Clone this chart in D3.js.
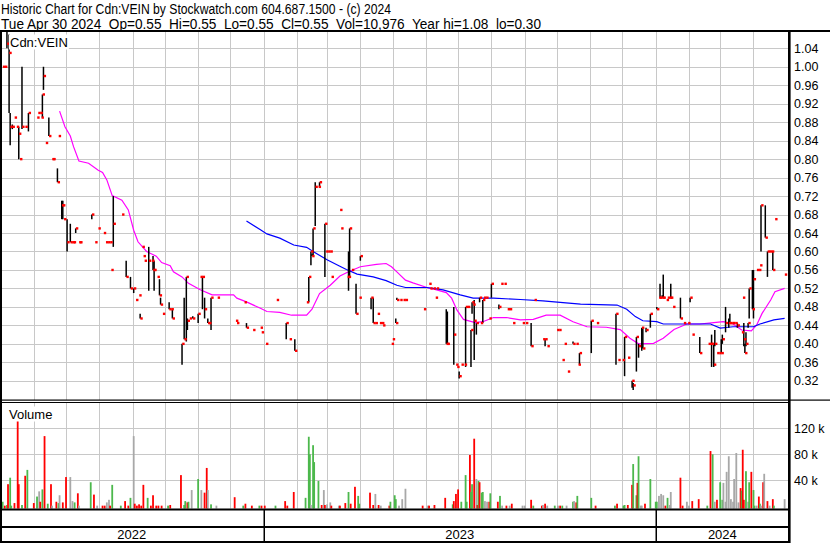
<!DOCTYPE html>
<html><head><meta charset="utf-8">
<script src="https://cdn.jsdelivr.net/npm/d3@7"></script>
<style>html,body{margin:0;padding:0;background:#fff;} svg{display:block;font-family:"Liberation Sans",Arial,sans-serif;}</style>
</head><body><svg id="c" width="830" height="543"></svg>
<script>
const headerTitle = "Historic Chart for Cdn:VEIN by Stockwatch.com 604.687.1500 - (c) 2024";
const headerQuote = "Tue Apr 30 2024  Op=0.55  Hi=0.55  Lo=0.55  Cl=0.55  Vol=10,976  Year hi=1.08  lo=0.30";
const symbolLabel = "Cdn:VEIN";
const volumeLabel = "Volume";
const priceTicks = [1.04,1.00,0.96,0.92,0.88,0.84,0.80,0.76,0.72,0.68,0.64,0.60,0.56,0.52,0.48,0.44,0.40,0.36,0.32];
const volumeTicks = [120,80,40];
const yearLabels = ["2022","2023","2024"];

// [date, high, low, close] or [date, close]
const ohlc = [
["2022-05-03",1.00],["2022-05-05",1.00],["2022-05-07",1.08,1.04,1.05],["2022-05-09",1.07,0.90,1.03],
["2022-05-10",0.90,0.83,0.87],["2022-05-12",0.875,0.865,0.87],["2022-05-14",0.89],["2022-05-16",0.87],
["2022-05-18",0.87,0.80,0.855],["2022-05-19",0.80],["2022-05-21",1.00,0.865,0.87],["2022-05-24",0.87],
["2022-05-27",0.90,0.86,0.90],["2022-06-04",0.89],["2022-06-05",0.90],["2022-06-07",0.90],["2022-06-08",0.89],
["2022-06-09",0.94,0.89,0.94],["2022-06-10",1.00,0.95,0.98],["2022-06-12",0.835],["2022-06-15",0.89,0.85,0.85],
["2022-06-18",0.80],["2022-06-19",0.80],["2022-06-23",0.78,0.75,0.75],["2022-06-24",0.85],
["2022-06-27",0.71,0.67,0.70],["2022-06-28",0.71,0.67,0.70],["2022-06-29",0.67],["2022-07-02",0.67,0.60,0.62],
["2022-07-05",0.66,0.62,0.62],["2022-07-07",0.62],["2022-07-08",0.62],["2022-07-10",0.65,0.64,0.65],
["2022-07-13",0.62],["2022-07-14",0.62],["2022-07-25",0.68,0.67,0.68],["2022-07-28",0.62],["2022-07-31",0.65],
["2022-08-05",0.64],["2022-08-07",0.62],["2022-08-09",0.62],["2022-08-11",0.62],["2022-08-12",0.56],
["2022-08-14",0.72,0.61,0.66],["2022-08-22",0.68],["2022-08-26",0.58,0.545,0.545],["2022-08-30",0.545,0.52,0.52],
["2022-09-02",0.52,0.51,0.52],["2022-09-04",0.495],["2022-09-07",0.505],["2022-09-08",0.465,0.455,0.455],
["2022-09-10",0.61],["2022-09-11",0.59],["2022-09-12",0.58],["2022-09-16",0.61,0.515,0.58],["2022-09-19",0.58],
["2022-09-20",0.59,0.56,0.56],["2022-09-21",0.58,0.515,0.56],["2022-09-24",0.545],["2022-09-26",0.54,0.505,0.505],
["2022-09-27",0.50,0.485,0.485],["2022-09-29",0.465],["2022-10-05",0.49,0.475,0.475],["2022-10-07",0.475],
["2022-10-08",0.475,0.455,0.455],["2022-10-17",0.40,0.355,0.40],["2022-10-19",0.50,0.41,0.41],
["2022-10-21",0.545,0.405,0.545],["2022-10-22",0.455,0.43,0.45],["2022-10-24",0.455],["2022-10-27",0.46,0.455,0.455],
["2022-11-01",0.465,0.445,0.465],["2022-11-03",0.545],["2022-11-05",0.545,0.475,0.545],["2022-11-07",0.50,0.455,0.475],
["2022-11-10",0.455,0.445,0.445],["2022-11-11",0.445],["2022-11-13",0.50,0.43,0.50],["2022-11-19",0.50],
["2022-12-06",0.45],["2022-12-07",0.445],["2022-12-14",0.49],["2022-12-16",0.445,0.435,0.435],["2022-12-22",0.43],
["2022-12-29",0.435],["2022-12-30",0.425],["2023-01-03",0.40],["2023-01-13",0.495],["2023-01-22",0.445,0.41,0.445],
["2023-01-25",0.41],["2023-01-30",0.41,0.385,0.385],["2023-02-10",0.49],["2023-02-12",0.545,0.49,0.545],
["2023-02-14",0.60,0.57,0.60],["2023-02-15",0.595,0.59,0.59],["2023-02-16",0.65,0.59,0.65],["2023-02-18",0.75,0.655,0.74],
["2023-02-21",0.74],["2023-02-22",0.75,0.74,0.75],["2023-02-27",0.66,0.545,0.66],["2023-02-28",0.60],["2023-03-02",0.60],
["2023-03-04",0.60],["2023-03-05",0.545],["2023-03-13",0.69],["2023-03-14",0.65],["2023-03-20",0.545],
["2023-03-21",0.60,0.515,0.545],["2023-03-22",0.65,0.545,0.65],["2023-03-24",0.56],["2023-03-28",0.53,0.465,0.465],
["2023-03-31",0.50],["2023-04-01",0.59,0.58,0.59],["2023-04-11",0.50,0.475,0.50],["2023-04-13",0.50,0.445,0.445],
["2023-04-15",0.445],["2023-04-17",0.465],["2023-04-19",0.445],["2023-04-21",0.445],["2023-04-22",0.44],
["2023-04-30",0.40],["2023-05-01",0.41],["2023-05-04",0.455,0.445,0.445],["2023-05-05",0.50,0.495,0.495],
["2023-05-08",0.495],["2023-05-11",0.495],["2023-05-13",0.495],["2023-05-30",0.475],["2023-06-04",0.53],
["2023-06-05",0.52],["2023-06-08",0.52],["2023-06-10",0.50],["2023-06-11",0.52],["2023-06-20",0.475,0.40,0.40],
["2023-06-21",0.47,0.40,0.40],["2023-06-27",0.48,0.355,0.42],["2023-06-29",0.355],["2023-06-30",0.35],
["2023-07-02",0.34,0.325,0.33],["2023-07-04",0.355],["2023-07-07",0.355],["2023-07-08",0.48,0.35,0.48],
["2023-07-10",0.48],["2023-07-13",0.43,0.35,0.43],["2023-07-14",0.49,0.465,0.49],["2023-07-15",0.485],
["2023-07-16",0.495,0.365,0.45],["2023-07-18",0.445,0.42,0.445],["2023-07-21",0.50,0.49,0.50],["2023-07-22",0.445],
["2023-07-24",0.495,0.445,0.495],["2023-07-25",0.50],["2023-07-27",0.50],["2023-07-30",0.455],["2023-08-01",0.53,0.50,0.53],
["2023-08-08",0.485,0.475,0.48],["2023-08-10",0.53],["2023-08-13",0.53],["2023-08-16",0.475],["2023-08-18",0.475],
["2023-08-21",0.445],["2023-08-30",0.445],["2023-09-02",0.445],["2023-09-07",0.445,0.395,0.395],["2023-09-10",0.495],
["2023-09-18",0.41],["2023-09-20",0.41,0.395,0.41],["2023-09-22",0.395],["2023-10-01",0.43],["2023-10-03",0.43],
["2023-10-06",0.365],["2023-10-08",0.40],["2023-10-11",0.34],["2023-10-16",0.405,0.40,0.40],["2023-10-19",0.40],
["2023-10-21",0.355],["2023-10-22",0.38,0.355,0.38],["2023-11-02",0.45,0.38,0.45],["2023-11-07",0.445],
["2023-11-25",0.465,0.355,0.465],["2023-11-27",0.365],["2023-12-01",0.365],["2023-12-03",0.415,0.33,0.415],
["2023-12-06",0.37],["2023-12-10",0.32,0.305,0.32],["2023-12-11",0.315,0.30,0.31],["2023-12-14",0.415,0.34,0.415],
["2023-12-16",0.40,0.37,0.395],["2023-12-19",0.435,0.385,0.435],["2023-12-20",0.435,0.39,0.39],["2023-12-23",0.435,0.425,0.43],
["2023-12-27",0.465,0.435,0.465],["2024-01-02",0.48,0.475,0.475],["2024-01-04",0.50],["2024-01-05",0.53,0.50,0.50],
["2024-01-07",0.505,0.50,0.50],["2024-01-08",0.55,0.50,0.50],["2024-01-11",0.495],["2024-01-12",0.50],["2024-01-14",0.50],
["2024-01-15",0.53,0.50,0.50],["2024-01-17",0.48],["2024-01-24",0.50,0.455,0.455],["2024-01-27",0.445],["2024-01-31",0.445],
["2024-02-02",0.50,0.49,0.50],["2024-02-04",0.42],["2024-02-11",0.415,0.38,0.38],["2024-02-19",0.40],["2024-02-21",0.40],
["2024-02-22",0.42,0.35,0.40],["2024-02-24",0.40,0.35,0.355],["2024-02-25",0.43,0.395,0.40],["2024-02-27",0.38],
["2024-02-29",0.38],["2024-03-02",0.41,0.38,0.38],["2024-03-03",0.42,0.40,0.41],["2024-03-06",0.48,0.425,0.445],
["2024-03-09",0.455,0.435,0.445],["2024-03-10",0.465,0.445,0.445],["2024-03-12",0.445],["2024-03-13",0.445],
["2024-03-15",0.445],["2024-03-17",0.445,0.435,0.44],["2024-03-21",0.425],["2024-03-22",0.50],["2024-03-23",0.445,0.395,0.41],
["2024-03-24",0.40,0.38,0.38],["2024-03-25",0.425,0.395,0.40],["2024-03-27",0.445,0.435,0.445],["2024-03-28",0.52,0.455,0.52],
["2024-03-31",0.56,0.475,0.475],["2024-04-01",0.56,0.455,0.54],["2024-04-04",0.56],["2024-04-06",0.56],["2024-04-07",0.57],
["2024-04-08",0.70,0.60,0.70],["2024-04-12",0.70,0.63,0.63],["2024-04-14",0.60,0.545,0.60],["2024-04-16",0.60],
["2024-04-18",0.60],["2024-04-19",0.60,0.56,0.56],["2024-04-21",0.67],["2024-04-30",0.55]
];

// [date, volume in thousands, r=down g=up n=unchanged]
const volume = [
["2022-05-01",48,"n"],["2022-05-03",7,"g"],["2022-05-05",1,"r"],["2022-05-07",2,"g"],["2022-05-08",34,"r"],["2022-05-10",44,"g"],
["2022-05-11",1,"g"],["2022-05-14",5,"r"],["2022-05-17",136,"r"],["2022-05-18",34,"r"],["2022-05-21",2,"g"],["2022-05-24",47,"r"],
["2022-05-26",56,"g"],["2022-06-01",5,"r"],["2022-06-04",15,"g"],["2022-06-06",23,"n"],["2022-06-07",7,"r"],["2022-06-09",26,"g"],
["2022-06-11",108,"r"],["2022-06-14",4,"g"],["2022-06-17",34,"r"],["2022-06-18",1,"n"],["2022-06-22",7,"r"],["2022-06-24",5,"g"],
["2022-06-25",17,"n"],["2022-06-28",6,"r"],["2022-07-01",45,"r"],["2022-07-05",45,"n"],["2022-07-07",8,"n"],["2022-07-09",6,"g"],
["2022-07-12",20,"r"],["2022-07-13",1,"n"],["2022-07-24",37,"g"],["2022-07-27",18,"r"],["2022-07-30",1,"n"],["2022-08-04",1,"r"],
["2022-08-06",1,"r"],["2022-08-08",6,"n"],["2022-08-10",10,"n"],["2022-08-11",1,"r"],["2022-08-13",33,"g"],["2022-08-21",1,"g"],
["2022-08-25",8,"r"],["2022-08-28",1,"r"],["2022-08-30",13,"g"],["2022-09-02",108,"n"],["2022-09-03",4,"r"],["2022-09-05",1,"r"],
["2022-09-07",3,"r"],["2022-09-09",1,"r"],["2022-09-11",33,"r"],["2022-09-15",13,"g"],["2022-09-18",1,"r"],["2022-09-20",17,"r"],
["2022-09-23",1,"r"],["2022-09-25",1,"r"],["2022-09-28",1,"r"],["2022-10-04",1,"g"],["2022-10-06",2,"r"],["2022-10-16",48,"r"],
["2022-10-19",2,"g"],["2022-10-20",8,"g"],["2022-10-22",6,"r"],["2022-10-23",7,"g"],["2022-10-26",25,"n"],["2022-11-01",42,"g"],
["2022-11-04",25,"n"],["2022-11-07",21,"r"],["2022-11-09",59,"r"],["2022-11-10",25,"n"],["2022-11-13",3,"g"],["2022-11-18",1,"n"],
["2022-12-05",14,"r"],["2022-12-13",1,"g"],["2022-12-15",4,"r"],["2022-12-21",1,"r"],["2022-12-28",1,"g"],["2022-12-30",1,"r"],
["2023-01-02",1,"r"],["2023-01-12",1,"g"],["2023-01-21",8,"r"],["2023-01-23",1,"r"],["2023-01-29",22,"r"],["2023-02-09",13,"g"],
["2023-02-12",107,"g"],["2023-02-13",80,"g"],["2023-02-14",2,"n"],["2023-02-16",94,"g"],["2023-02-17",68,"g"],["2023-02-21",39,"g"],
["2023-02-24",2,"r"],["2023-02-26",25,"n"],["2023-02-27",2,"r"],["2023-03-01",3,"n"],["2023-03-04",6,"n"],["2023-03-05",1,"r"],
["2023-03-12",1,"n"],["2023-03-13",1,"r"],["2023-03-18",5,"r"],["2023-03-21",22,"g"],["2023-03-23",4,"r"],["2023-03-27",30,"r"],
["2023-03-30",16,"g"],["2023-03-31",4,"g"],["2023-04-10",21,"r"],["2023-04-13",2,"r"],["2023-04-15",19,"n"],["2023-04-18",2,"r"],
["2023-04-20",1,"n"],["2023-04-28",1,"r"],["2023-04-29",7,"g"],["2023-05-03",17,"g"],["2023-05-04",11,"g"],["2023-05-07",1,"n"],
["2023-05-10",11,"n"],["2023-05-13",27,"n"],["2023-05-29",1,"r"],["2023-06-03",1,"n"],["2023-06-04",1,"r"],["2023-06-09",2,"r"],
["2023-06-19",13,"r"],["2023-06-26",3,"g"],["2023-06-27",8,"r"],["2023-06-29",19,"r"],["2023-07-01",26,"r"],["2023-07-04",7,"g"],
["2023-07-08",48,"g"],["2023-07-09",7,"g"],["2023-07-12",79,"r"],["2023-07-13",22,"g"],["2023-07-14",34,"g"],["2023-07-16",104,"r"],
["2023-07-18",42,"n"],["2023-07-19",2,"r"],["2023-07-20",39,"g"],["2023-07-21",37,"r"],["2023-07-23",21,"g"],["2023-07-24",22,"g"],
["2023-07-26",8,"n"],["2023-07-28",7,"n"],["2023-07-30",7,"r"],["2023-07-31",20,"g"],["2023-08-07",7,"r"],["2023-08-09",16,"g"],
["2023-08-11",1,"n"],["2023-08-15",1,"r"],["2023-08-18",1,"n"],["2023-08-20",4,"r"],["2023-08-30",1,"n"],["2023-09-01",1,"n"],
["2023-09-07",10,"r"],["2023-09-09",1,"g"],["2023-09-17",1,"r"],["2023-09-18",2,"n"],["2023-09-20",4,"r"],["2023-09-22",1,"n"],
["2023-09-29",1,"g"],["2023-10-02",1,"n"],["2023-10-04",1,"r"],["2023-10-06",1,"g"],["2023-10-10",1,"n"],["2023-10-16",7,"g"],
["2023-10-17",8,"n"],["2023-10-19",6,"r"],["2023-10-20",16,"g"],["2023-11-02",13,"g"],["2023-11-06",1,"r"],["2023-11-24",1,"g"],
["2023-11-26",4,"r"],["2023-12-02",1,"g"],["2023-12-03",2,"g"],["2023-12-06",2,"r"],["2023-12-10",33,"r"],["2023-12-11",65,"g"],
["2023-12-14",17,"g"],["2023-12-15",36,"r"],["2023-12-16",77,"g"],["2023-12-18",1,"n"],["2023-12-19",1,"n"],["2023-12-22",4,"r"],
["2023-12-27",42,"g"],["2024-01-01",7,"g"],["2024-01-02",7,"g"],["2024-01-04",16,"n"],["2024-01-06",19,"n"],["2024-01-08",17,"n"],
["2024-01-10",1,"r"],["2024-01-12",13,"g"],["2024-01-14",2,"n"],["2024-01-15",22,"n"],["2024-01-24",44,"r"],["2024-01-26",1,"r"],
["2024-01-30",7,"n"],["2024-02-01",1,"n"],["2024-02-04",8,"r"],["2024-02-10",11,"r"],["2024-02-18",1,"g"],["2024-02-21",85,"r"],
["2024-02-23",80,"g"],["2024-02-25",7,"n"],["2024-02-27",10,"r"],["2024-03-01",37,"g"],["2024-03-03",10,"g"],["2024-03-04",36,"n"],
["2024-03-06",7,"n"],["2024-03-07",53,"n"],["2024-03-09",77,"n"],["2024-03-11",11,"n"],["2024-03-13",7,"n"],["2024-03-14",42,"n"],
["2024-03-16",82,"n"],["2024-03-18",6,"n"],["2024-03-20",28,"r"],["2024-03-21",24,"g"],["2024-03-22",87,"r"],["2024-03-23",10,"r"],
["2024-03-25",54,"g"],["2024-03-27",7,"n"],["2024-03-28",37,"g"],["2024-03-30",53,"r"],["2024-04-01",25,"g"],["2024-04-02",1,"g"],
["2024-04-04",1,"n"],["2024-04-06",15,"r"],["2024-04-07",4,"g"],["2024-04-08",1,"n"],["2024-04-10",37,"r"],["2024-04-11",50,"n"],
["2024-04-14",8,"r"],["2024-04-16",1,"n"],["2024-04-19",11,"r"],["2024-04-20",1,"g"],["2024-04-30",11,"n"]
];

// moving averages [date, value]
const maShort = [
["2022-06-25",0.904],["2022-06-30",0.870],["2022-07-05",0.850],["2022-07-08",0.827],["2022-07-13",0.796],["2022-07-22",0.791],
["2022-07-31",0.776],["2022-08-04",0.771],["2022-08-08",0.755],["2022-08-13",0.721],["2022-08-22",0.711],["2022-08-28",0.690],
["2022-09-02",0.646],["2022-09-06",0.621],["2022-09-14",0.600],["2022-09-23",0.590],["2022-09-28",0.576],["2022-10-06",0.569],
["2022-10-09",0.556],["2022-10-17",0.545],["2022-10-23",0.531],["2022-11-03",0.517],["2022-11-14",0.506],["2022-12-04",0.506],
["2022-12-07",0.499],["2022-12-16",0.491],["2022-12-29",0.477],["2023-01-04",0.470],["2023-01-16",0.468],["2023-01-27",0.462],
["2023-02-10",0.462],["2023-02-15",0.475],["2023-02-22",0.509],["2023-03-04",0.527],["2023-03-13",0.547],["2023-03-21",0.556],
["2023-04-01",0.567],["2023-04-16",0.572],["2023-04-25",0.574],["2023-04-30",0.567],["2023-05-05",0.556],["2023-05-13",0.538],
["2023-05-20",0.532],["2023-06-02",0.522],["2023-06-11",0.517],["2023-06-20",0.511],["2023-06-25",0.499],["2023-06-30",0.473],
["2023-07-06",0.453],["2023-07-17",0.446],["2023-07-24",0.448],["2023-08-03",0.457],["2023-08-15",0.457],["2023-08-28",0.452],
["2023-09-09",0.453],["2023-09-21",0.462],["2023-10-04",0.462],["2023-10-16",0.448],["2023-10-29",0.437],["2023-11-16",0.436],
["2023-11-29",0.431],["2023-12-08",0.412],["2023-12-16",0.400],["2023-12-30",0.401],["2024-01-08",0.412],["2024-01-18",0.431],
["2024-01-30",0.443],["2024-02-11",0.443],["2024-02-24",0.446],["2024-03-04",0.448],["2024-03-13",0.443],["2024-03-21",0.430],
["2024-03-30",0.428],["2024-04-04",0.441],["2024-04-09",0.466],["2024-04-17",0.495],["2024-04-21",0.513],["2024-04-30",0.520]
];
const maLong = [
["2022-12-16",0.666],["2022-12-29",0.647],["2023-01-04",0.638],["2023-01-16",0.629],["2023-01-29",0.614],["2023-02-10",0.609],
["2023-02-16",0.600],["2023-03-01",0.582],["2023-03-12",0.569],["2023-03-19",0.561],["2023-03-29",0.551],["2023-04-13",0.545],
["2023-04-25",0.537],["2023-05-05",0.527],["2023-05-13",0.522],["2023-06-02",0.522],["2023-06-17",0.517],["2023-07-03",0.506],
["2023-07-15",0.499],["2023-08-03",0.499],["2023-08-28",0.496],["2023-09-18",0.493],["2023-10-04",0.490],["2023-10-23",0.486],
["2023-11-26",0.484],["2023-12-05",0.475],["2023-12-13",0.459],["2023-12-20",0.450],["2024-01-02",0.448],["2024-01-08",0.443],
["2024-01-21",0.443],["2024-02-21",0.443],["2024-03-01",0.434],["2024-03-13",0.437],["2024-04-01",0.437],["2024-04-07",0.443],
["2024-04-20",0.452],["2024-04-30",0.455]
];

const parse = d3.timeParse("%Y-%m-%d");
const svg = d3.select("#c");
const W = 830, H = 543, RX = 789;
const P = {top: 32, bottom: 400};
const V = {top: 402.5, bottom: 508.5};

const x = d3.scaleTime().domain([new Date(2022,4,1), new Date(2024,4,5)]).range([0.5, 790]);
const y = d3.scaleLinear().domain([0.32, 1.04]).range([380.8, 48.3]);
const yv = d3.scaleLinear().domain([0, 40]).range([506.3, 480.3]);

svg.append("rect").attr("width", W).attr("height", H).attr("fill", "#fff");

const gridColor = "#c8c8c8";
const months = d3.timeMonth.range(new Date(2022,5,1), new Date(2024,4,1));
const grid = svg.append("g").attr("stroke", gridColor).attr("stroke-width", 1);
priceTicks.forEach(t => {
  const yy = Math.round(y(t)) + 0.5;
  grid.append("line").attr("x1", 0).attr("x2", RX).attr("y1", yy).attr("y2", yy);
});
volumeTicks.forEach(t => {
  const yy = Math.round(yv(t)) + 0.5;
  grid.append("line").attr("x1", 0).attr("x2", RX).attr("y1", yy).attr("y2", yy);
});
months.forEach(m => {
  const xx = Math.round(x(m)) + 0.5;
  grid.append("line").attr("x1", xx).attr("x2", xx).attr("y1", P.top).attr("y2", P.bottom);
  grid.append("line").attr("x1", xx).attr("x2", xx).attr("y1", V.top).attr("y2", V.bottom);
});

// volume bars
const vColor = {r: "#ff0000", g: "#4cb84c", n: "#a8a8a8"};
svg.append("g").selectAll("rect").data(volume).join("rect")
  .attr("x", d => x(parse(d[0])) - 0.9)
  .attr("width", 1.8)
  .attr("y", d => yv(d[1]))
  .attr("height", d => V.bottom - yv(d[1]))
  .attr("fill", d => vColor[d[2]]);

// price panel clip
svg.append("clipPath").attr("id", "pc").append("rect").attr("x", 0).attr("y", P.top).attr("width", RX).attr("height", P.bottom - P.top);
const pg = svg.append("g").attr("clip-path", "url(#pc)");

const line = d3.line().x(d => x(parse(d[0]))).y(d => y(d[1]));
pg.append("path").datum(maShort).attr("d", line).attr("fill", "none").attr("stroke", "#ff00ff").attr("stroke-width", 1.2);
pg.append("path").datum(maLong).attr("d", line).attr("fill", "none").attr("stroke", "#0000ff").attr("stroke-width", 1.2);

const rec = ohlc.map(d => d.length === 2 ? {date: parse(d[0]), hi: d[1], lo: d[1], cl: d[1]} : {date: parse(d[0]), hi: d[1], lo: d[2], cl: d[3]});
pg.append("g").selectAll("line").data(rec.filter(d => d.hi > d.lo)).join("line")
  .attr("x1", d => x(d.date)).attr("x2", d => x(d.date))
  .attr("y1", d => y(d.hi)).attr("y2", d => y(d.lo))
  .attr("stroke", "#000").attr("stroke-width", 1.5);
pg.append("g").selectAll("rect").data(rec).join("rect")
  .attr("x", d => x(d.date) + 0.2).attr("y", d => y(d.cl) - 1.2)
  .attr("width", 2.4).attr("height", 2.4).attr("fill", "#ff0000");

// labels with white background
function boxedLabel(txt, tx, ty) {
  const g = svg.append("g");
  const r = g.append("rect").attr("fill", "#fff");
  const t = g.append("text").attr("x", tx).attr("y", ty).attr("font-size", 13).attr("fill", "#000").text(txt);
  const b = t.node().getBBox();
  r.attr("x", b.x - 1).attr("y", b.y).attr("width", b.width + 2).attr("height", b.height);
}
boxedLabel(symbolLabel, 10, 46.5);
boxedLabel(volumeLabel, 9, 418.5);

// header
svg.append("text").attr("x", 1).attr("y", 14).attr("font-size", 14).attr("fill", "#000")
  .attr("xml:space", "preserve").style("white-space", "pre")
  .attr("textLength", 390).attr("lengthAdjust", "spacingAndGlyphs").text(headerTitle);
svg.append("text").attr("x", 1).attr("y", 28.5).attr("font-size", 14).attr("fill", "#000")
  .attr("xml:space", "preserve").style("white-space", "pre")
  .attr("textLength", 540).attr("lengthAdjust", "spacingAndGlyphs").text(headerQuote);

// frame
const frame = svg.append("g").attr("fill", "#000");
frame.append("rect").attr("x", 0).attr("y", 30).attr("width", W).attr("height", 2);
frame.append("rect").attr("x", 0).attr("y", 30).attr("width", 2).attr("height", H - 30);
frame.append("rect").attr("x", 0).attr("y", 399.5).attr("width", W).attr("height", 1.2);
frame.append("rect").attr("x", 0).attr("y", 402).attr("width", RX).attr("height", 1);
frame.append("rect").attr("x", 0).attr("y", 508.5).attr("width", RX).attr("height", 2);
frame.append("rect").attr("x", 0).attr("y", 526).attr("width", RX).attr("height", 2);
frame.append("rect").attr("x", 0).attr("y", 541).attr("width", RX).attr("height", 2);
frame.append("rect").attr("x", 788).attr("y", 30).attr("width", 2.6).attr("height", H - 30);

// year dividers and labels
const yearStarts = [new Date(2023,0,1), new Date(2024,0,1)];
yearStarts.forEach(ys => {
  frame.append("rect").attr("x", Math.round(x(ys)) - 0.5).attr("y", 510).attr("width", 1.5).attr("height", 32);
});
const bounds = [0, x(yearStarts[0]), x(yearStarts[1]), RX];
yearLabels.forEach((lab, i) => {
  svg.append("text").attr("x", (bounds[i] + bounds[i+1]) / 2).attr("y", 539).attr("text-anchor", "middle")
    .attr("font-size", 13).attr("fill", "#000").text(lab);
});

// right axis labels
svg.append("g").selectAll("text").data(priceTicks).join("text")
  .attr("x", 794).attr("y", d => y(d)).attr("dy", "0.36em").attr("font-size", 12.5).attr("fill", "#000")
  .text(d => d3.format(".2f")(d));
svg.append("g").selectAll("text").data(volumeTicks).join("text")
  .attr("x", 794).attr("y", d => yv(d)).attr("dy", "0.36em").attr("font-size", 12.5).attr("fill", "#000")
  .text(d => d + " k");
</script></body></html>
